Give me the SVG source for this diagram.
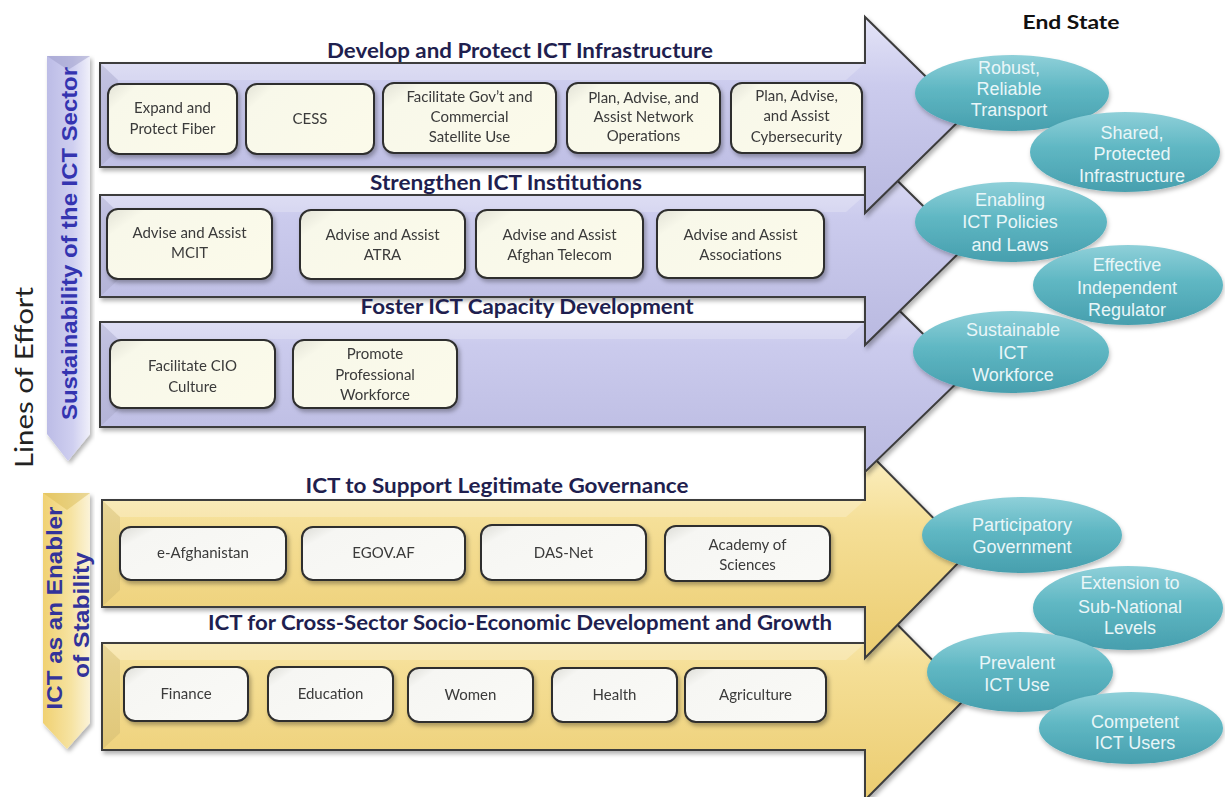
<svg xmlns="http://www.w3.org/2000/svg" width="1225" height="797" viewBox="0 0 1225 797">
<defs>
<linearGradient id="gP" x1="0" y1="0" x2="0" y2="1">
<stop offset="0" stop-color="#e4e4f7"/><stop offset="0.35" stop-color="#cbcbed"/><stop offset="1" stop-color="#b9b9e0"/>
</linearGradient>
<linearGradient id="gY" x1="0" y1="0" x2="0" y2="1">
<stop offset="0" stop-color="#fcf0c4"/><stop offset="0.35" stop-color="#f5df97"/><stop offset="1" stop-color="#ebcc70"/>
</linearGradient>
<linearGradient id="gBoxP" x1="0" y1="0" x2="1" y2="0.6">
<stop offset="0" stop-color="#e2e2d6"/><stop offset="0.18" stop-color="#f8f8ea"/><stop offset="1" stop-color="#fbfaea"/>
</linearGradient>
<linearGradient id="gBoxY" x1="0" y1="0" x2="1" y2="0.6">
<stop offset="0" stop-color="#dcdcd6"/><stop offset="0.18" stop-color="#f6f6f3"/><stop offset="1" stop-color="#f9f9f6"/>
</linearGradient>
<linearGradient id="gEl" x1="0" y1="0" x2="0" y2="1">
<stop offset="0" stop-color="#8fd0d9"/><stop offset="0.45" stop-color="#5fb7c3"/><stop offset="1" stop-color="#479fae"/>
</linearGradient>
<linearGradient id="gVP" x1="0" y1="0" x2="1" y2="0">
<stop offset="0" stop-color="#bcbce6"/><stop offset="0.6" stop-color="#cfcff0"/><stop offset="1" stop-color="#f0f0fa"/>
</linearGradient>
<linearGradient id="gVY" x1="0" y1="0" x2="1" y2="0">
<stop offset="0" stop-color="#f0d172"/><stop offset="0.6" stop-color="#f6e3a2"/><stop offset="1" stop-color="#fbf3d8"/>
</linearGradient>
<filter id="sh" x="-5%" y="-10%" width="115%" height="130%">
<feDropShadow dx="2" dy="3" stdDeviation="2" flood-color="#000" flood-opacity="0.3"/>
</filter>
<filter id="shE" x="-10%" y="-10%" width="125%" height="135%">
<feDropShadow dx="1" dy="3" stdDeviation="2" flood-color="#000" flood-opacity="0.25"/>
</filter>
<style>
.arrP{fill:url(#gP);stroke:#3c3c3c;stroke-width:2;stroke-linejoin:miter}
.arrY{fill:url(#gY);stroke:#3c3c3c;stroke-width:2;stroke-linejoin:miter}
.bevL{fill:#ffffff;opacity:0.22}
.bevD{fill:#000000;opacity:0.06}
.boxP{fill:url(#gBoxP);stroke:#2e2e2e;stroke-width:2}
.boxY{fill:url(#gBoxY);stroke:#2e2e2e;stroke-width:2}
.bt{font-family:Lato,"Open Sans","Liberation Sans",sans-serif;font-size:15px;fill:#3a3a3a;text-anchor:middle}
.ttl{font-family:Lato,"Open Sans","Liberation Sans",sans-serif;font-size:21px;font-weight:bold;fill:#1f1f4f;text-anchor:middle}
.el{fill:url(#gEl)}
.et{font-family:"Liberation Sans",Arial,sans-serif;font-size:18px;fill:#e9f6f8;text-anchor:middle}
.vt{font-family:"Liberation Sans",Arial,sans-serif;font-size:22px;font-weight:bold;text-anchor:middle}
</style>
</defs>
<rect width="1225" height="797" fill="#ffffff"/>

<g id="lanes">
<g id="arrow-cross-sector" filter="url(#sh)">
<polygon class="arrY" points="102,643 865,643 865,592 968,696 865,800 865,750 102,750"/>
<polygon class="bevL" points="103,644 864,644 846,660 120,660"/>
<polygon class="bevD" points="103,644 120,660 120,733 103,749"/>
</g>
<g id="arrow-governance" filter="url(#sh)">
<polygon class="arrY" points="102,500 865,500 865,449 968,553 865,658 865,607 102,607"/>
<polygon class="bevL" points="103,501 864,501 846,517 120,517"/>
<polygon class="bevD" points="103,501 120,517 120,590 103,606"/>
</g>
<g id="arrow-capacity" filter="url(#sh)">
<polygon class="arrP" points="100,322 865,322 865,277 965,375 865,472 865,427 100,427"/>
<polygon class="bevL" points="101,323 864,323 846,339 118,339"/>
<polygon class="bevD" points="101,323 118,339 118,410 101,426"/>
</g>
<g id="arrow-institutions" filter="url(#sh)">
<polygon class="arrP" points="100,195 865,195 865,149 965,247 865,345 865,297 100,297"/>
<polygon class="bevL" points="101,196 864,196 846,212 118,212"/>
<polygon class="bevD" points="101,196 118,212 118,280 101,296"/>
</g>
<g id="arrow-infrastructure" filter="url(#sh)">
<polygon class="arrP" points="100,63 865,63 865,17 965,115 865,213 865,167 100,167"/>
<polygon class="bevL" points="101,64 864,64 846,80 118,80"/>
<polygon class="bevD" points="101,64 118,80 118,150 101,166"/>
</g>
</g>

<g id="left-labels">
<text x="0" y="0" transform="translate(33,377.5) rotate(-90)" font-family="Lato,'Open Sans','Liberation Sans',sans-serif" font-size="25" fill="#222" text-anchor="middle" textLength="181" lengthAdjust="spacingAndGlyphs">Lines of Effort</text>
<g id="sustainability-arrow">
<polygon points="47,56 90,56 90,434 68,461 47,434" fill="url(#gVP)" filter="url(#sh)"/>
<polygon points="47,56 90,56 68,70" fill="#9c9cc8" opacity="0.5"/>
<text class="vt" x="0" y="0" transform="translate(77,243.5) rotate(-90)" fill="#3434b0" textLength="353" lengthAdjust="spacingAndGlyphs">Sustainability of the ICT Sector</text>
</g>
<g id="stability-arrow">
<polygon points="43,493 90,493 90,723 67,749 43,723" fill="url(#gVY)" filter="url(#sh)"/>
<polygon points="43,493 90,493 67,510" fill="#d8b850" opacity="0.45"/>
<text class="vt" x="0" y="0" transform="translate(62,608) rotate(-90)" fill="#33339a" textLength="203" lengthAdjust="spacingAndGlyphs">ICT as an Enabler</text>
<text class="vt" x="0" y="0" transform="translate(89,615) rotate(-90)" fill="#33339a" textLength="126" lengthAdjust="spacingAndGlyphs">of Stability</text>
</g>
</g>

<g id="titles">
<text class="ttl" x="520" y="58" textLength="386" lengthAdjust="spacingAndGlyphs">Develop and Protect ICT Infrastructure</text>
<text class="ttl" x="506" y="190" textLength="272" lengthAdjust="spacingAndGlyphs">Strengthen ICT Institutions</text>
<text class="ttl" x="527" y="314" textLength="333" lengthAdjust="spacingAndGlyphs">Foster ICT Capacity Development</text>
<text class="ttl" x="497" y="493" textLength="383" lengthAdjust="spacingAndGlyphs">ICT to Support Legitimate Governance</text>
<text class="ttl" x="520" y="630" textLength="624" lengthAdjust="spacingAndGlyphs">ICT for Cross-Sector Socio-Economic Development and Growth</text>
<text x="1071" y="29" font-family="Lato,'Open Sans','Liberation Sans',sans-serif" font-size="19" font-weight="bold" fill="#111" text-anchor="middle" textLength="97" lengthAdjust="spacingAndGlyphs">End State</text>
</g>

<g id="n-expand-fiber" filter="url(#sh)"><rect class="boxP" x="108" y="84" width="129" height="70" rx="11"/><text class="bt"><tspan x="172.5" y="113">Expand and</tspan><tspan x="172.5" y="134">Protect Fiber</tspan></text></g>
<g id="n-cess" filter="url(#sh)"><rect class="boxP" x="246" y="84" width="128" height="70" rx="11"/><text class="bt" x="310" y="124">CESS</text></g>
<g id="n-satellite" filter="url(#sh)"><rect class="boxP" x="383" y="83" width="173" height="70" rx="11"/><text class="bt"><tspan x="469.5" y="102">Facilitate Gov’t and</tspan><tspan x="469.5" y="122">Commercial</tspan><tspan x="469.5" y="142">Satellite Use</tspan></text></g>
<g id="n-network-ops" filter="url(#sh)"><rect class="boxP" x="567" y="83" width="153" height="70" rx="11"/><text class="bt"><tspan x="643.5" y="103">Plan, Advise, and</tspan><tspan x="643.5" y="122">Assist Network</tspan><tspan x="643.5" y="141">Operations</tspan></text></g>
<g id="n-cybersecurity" filter="url(#sh)"><rect class="boxP" x="731" y="83" width="131" height="70" rx="11"/><text class="bt"><tspan x="796.5" y="101">Plan, Advise,</tspan><tspan x="796.5" y="121">and Assist</tspan><tspan x="796.5" y="142">Cybersecurity</tspan></text></g>

<g id="n-mcit" filter="url(#sh)"><rect class="boxP" x="107" y="209" width="165" height="70" rx="11"/><text class="bt"><tspan x="189.5" y="238">Advise and Assist</tspan><tspan x="189.5" y="258">MCIT</tspan></text></g>
<g id="n-atra" filter="url(#sh)"><rect class="boxP" x="300" y="210" width="165" height="69" rx="11"/><text class="bt"><tspan x="382.5" y="240">Advise and Assist</tspan><tspan x="382.5" y="260">ATRA</tspan></text></g>
<g id="n-afghan-telecom" filter="url(#sh)"><rect class="boxP" x="476" y="210" width="167" height="68" rx="11"/><text class="bt"><tspan x="559.5" y="240">Advise and Assist</tspan><tspan x="559.5" y="260">Afghan Telecom</tspan></text></g>
<g id="n-associations" filter="url(#sh)"><rect class="boxP" x="657" y="210" width="167" height="68" rx="11"/><text class="bt"><tspan x="740.5" y="240">Advise and Assist</tspan><tspan x="740.5" y="260">Associations</tspan></text></g>

<g id="n-cio-culture" filter="url(#sh)"><rect class="boxP" x="110" y="340" width="165" height="68" rx="11"/><text class="bt"><tspan x="192.5" y="371">Facilitate CIO</tspan><tspan x="192.5" y="392">Culture</tspan></text></g>
<g id="n-workforce" filter="url(#sh)"><rect class="boxP" x="293" y="340" width="164" height="68" rx="11"/><text class="bt"><tspan x="375" y="359">Promote</tspan><tspan x="375" y="380">Professional</tspan><tspan x="375" y="400">Workforce</tspan></text></g>

<g id="n-e-afghanistan" filter="url(#sh)"><rect class="boxY" x="120" y="527" width="166" height="53" rx="11"/><text class="bt" x="203" y="558">e-Afghanistan</text></g>
<g id="n-egov" filter="url(#sh)"><rect class="boxY" x="302" y="527" width="163" height="53" rx="11"/><text class="bt" x="383.5" y="558">EGOV.AF</text></g>
<g id="n-das-net" filter="url(#sh)"><rect class="boxY" x="481" y="525" width="165" height="55" rx="11"/><text class="bt" x="563.5" y="558">DAS-Net</text></g>
<g id="n-academy" filter="url(#sh)"><rect class="boxY" x="665" y="526" width="165" height="55" rx="11"/><text class="bt"><tspan x="747.5" y="550">Academy of</tspan><tspan x="747.5" y="570">Sciences</tspan></text></g>

<g id="n-finance" filter="url(#sh)"><rect class="boxY" x="124" y="667" width="124" height="54" rx="11"/><text class="bt" x="186" y="699">Finance</text></g>
<g id="n-education" filter="url(#sh)"><rect class="boxY" x="268" y="667" width="125" height="54" rx="11"/><text class="bt" x="330.5" y="699">Education</text></g>
<g id="n-women" filter="url(#sh)"><rect class="boxY" x="408" y="668" width="125" height="54" rx="11"/><text class="bt" x="470.5" y="700">Women</text></g>
<g id="n-health" filter="url(#sh)"><rect class="boxY" x="552" y="668" width="125" height="54" rx="11"/><text class="bt" x="614.5" y="700">Health</text></g>
<g id="n-agriculture" filter="url(#sh)"><rect class="boxY" x="685" y="668" width="141" height="54" rx="11"/><text class="bt" x="755.5" y="700">Agriculture</text></g>

<g id="e-robust"><ellipse class="el" cx="1012" cy="93" rx="97" ry="38" filter="url(#shE)"/><text class="et"><tspan x="1009" y="74">Robust,</tspan><tspan x="1009" y="95">Reliable</tspan><tspan x="1009" y="116">Transport</tspan></text></g>
<g id="e-shared"><ellipse class="el" cx="1125" cy="152" rx="95" ry="40" filter="url(#shE)"/><text class="et"><tspan x="1132" y="139">Shared,</tspan><tspan x="1132" y="160">Protected</tspan><tspan x="1132" y="182">Infrastructure</tspan></text></g>
<g id="e-enabling"><ellipse class="el" cx="1011" cy="222" rx="96" ry="40" filter="url(#shE)"/><text class="et"><tspan x="1010" y="206">Enabling</tspan><tspan x="1010" y="228">ICT Policies</tspan><tspan x="1010" y="251">and Laws</tspan></text></g>
<g id="e-regulator"><ellipse class="el" cx="1128" cy="285" rx="95" ry="40" filter="url(#shE)"/><text class="et"><tspan x="1127" y="271">Effective</tspan><tspan x="1127" y="294">Independent</tspan><tspan x="1127" y="316">Regulator</tspan></text></g>
<g id="e-sustainable"><ellipse class="el" cx="1011" cy="352" rx="98" ry="41" filter="url(#shE)"/><text class="et"><tspan x="1013" y="336">Sustainable</tspan><tspan x="1013" y="359">ICT</tspan><tspan x="1013" y="381">Workforce</tspan></text></g>
<g id="e-participatory"><ellipse class="el" cx="1022" cy="535" rx="100" ry="38" filter="url(#shE)"/><text class="et"><tspan x="1022" y="531">Participatory</tspan><tspan x="1022" y="553">Government</tspan></text></g>
<g id="e-extension"><ellipse class="el" cx="1128" cy="608" rx="95" ry="42" filter="url(#shE)"/><text class="et"><tspan x="1130" y="589">Extension to</tspan><tspan x="1130" y="613">Sub-National</tspan><tspan x="1130" y="634">Levels</tspan></text></g>
<g id="e-prevalent"><ellipse class="el" cx="1020" cy="672" rx="93" ry="40" filter="url(#shE)"/><text class="et"><tspan x="1017" y="669">Prevalent</tspan><tspan x="1017" y="691">ICT Use</tspan></text></g>
<g id="e-competent"><ellipse class="el" cx="1131" cy="728" rx="92" ry="36" filter="url(#shE)"/><text class="et"><tspan x="1135" y="728">Competent</tspan><tspan x="1135" y="749">ICT Users</tspan></text></g>
</svg>
